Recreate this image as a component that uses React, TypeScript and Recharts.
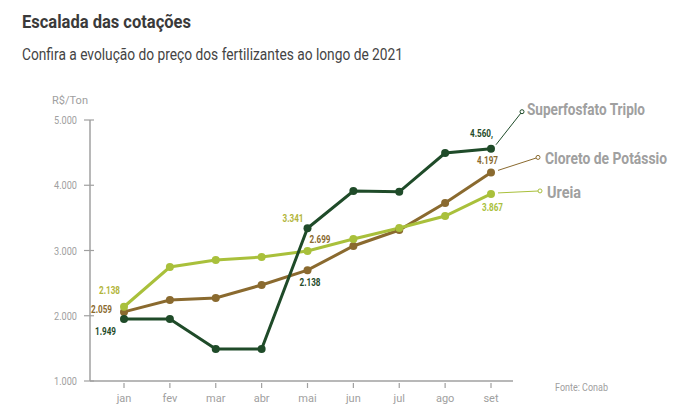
import { LineChart, Line, XAxis, YAxis } from 'recharts';

const months = ['jan', 'fev', 'mar', 'abr', 'mai', 'jun', 'jul', 'ago', 'set'];
const superfosfato = [1949, 1949, 1490, 1490, 3341, 3912, 3900, 4494, 4560];
const cloreto = [2059, 2241, 2272, 2471, 2699, 3069, 3314, 3728, 4197];
const ureia = [2138, 2747, 2854, 2900, 2992, 3176, 3345, 3529, 3867];
const yTicks = [1000, 2000, 3000, 4000, 5000];

const DARK = '#1f4b29';
const BROWN = '#8a6a2f';
const LIME = '#a9c03b';
const GRAY = '#a0a0a0';
const FONT = 'Roboto, "Noto Sans", Arial, sans-serif';

const data = months.map((m, i) => ({
  month: m,
  superfosfato: superfosfato[i],
  cloreto: cloreto[i],
  ureia: ureia[i],
}));

// rótulos de valor: série, índice, texto, cor, deslocamento a partir do ponto
const valueLabels = [
  { key: 'ureia', index: 0, text: '2.138', color: '#b2b53a', dx: -25, dy: -13 },
  { key: 'cloreto', index: 0, text: '2.059', color: BROWN, dx: -33, dy: 1 },
  { key: 'superfosfato', index: 0, text: '1.949', color: DARK, dx: -29, dy: 16 },
  { key: 'superfosfato', index: 4, text: '3.341', color: '#b2b53a', dx: -25, dy: -6 },
  { key: 'cloreto', index: 4, text: '2.699', color: BROWN, dx: 2, dy: -27 },
  { key: 'cloreto', index: 4, text: '2.138', color: DARK, dx: -8, dy: 16 },
  { key: 'superfosfato', index: 8, text: '4.560,', color: DARK, dx: -21, dy: -12 },
  { key: 'cloreto', index: 8, text: '4.197', color: BROWN, dx: -14, dy: -8 },
  { key: 'ureia', index: 8, text: '3.867', color: LIME, dx: -9, dy: 17 },
];

const legendItems: Record<string, { name: string; color: string; width: number; from: [number, number]; to: [number, number]; text: [number, number] }> = {
  superfosfato: { name: 'Superfosfato Triplo', color: DARK, width: 118, from: [5, -4], to: [31, -37], text: [5, 3] },
  cloreto: { name: 'Cloreto de Potássio', color: BROWN, width: 122, from: [7, -2], to: [47, -15], text: [7, 7] },
  ureia: { name: 'Ureia', color: LIME, width: 34, from: [7, -1], to: [49, -3], text: [7, 7] },
};

const makeLabel = (key: string) => (props: any) => {
  const { x, y, index } = props;
  const items = valueLabels.filter(l => l.key === key && l.index === index);
  const leg = index === months.length - 1 ? legendItems[key] : null;
  return (
    <g key={`${key}-${index}`}>
      {items.map((l, i) => (
        <text
          key={i}
          x={x + l.dx}
          y={y + l.dy}
          fill={l.color}
          fontSize={10}
          fontWeight="bold"
          fontFamily={FONT}
          textLength={l.text.length > 5 ? 23 : 21}
          lengthAdjust="spacingAndGlyphs"
        >
          {l.text}
        </text>
      ))}
      {leg && (
        <g>
          <line
            x1={x + leg.from[0]}
            y1={y + leg.from[1]}
            x2={x + leg.to[0]}
            y2={y + leg.to[1]}
            stroke={leg.color}
            strokeWidth={1}
          />
          <circle cx={x + leg.to[0]} cy={y + leg.to[1]} r={2} fill="#fff" stroke={leg.color} strokeWidth={1} />
          <text
            x={x + leg.to[0] + leg.text[0]}
            y={y + leg.to[1] + leg.text[1]}
            fill={GRAY}
            fontSize={17}
            fontWeight="bold"
            fontFamily={FONT}
            textLength={leg.width}
            lengthAdjust="spacingAndGlyphs"
          >
            {leg.name}
          </text>
        </g>
      )}
    </g>
  );
};

const YTick = (props: any) => {
  const { x, y, payload } = props;
  return (
    <g>
      <line x1={x + 2} y1={y} x2={x + 12} y2={y} stroke={GRAY} strokeWidth={1.2} />
      <text
        x={x - 5}
        y={y + 4}
        textAnchor="end"
        fill={GRAY}
        fontSize={11}
        fontFamily={FONT}
        textLength={23}
        lengthAdjust="spacingAndGlyphs"
      >
        {payload.value.toLocaleString('de-DE')}
      </text>
    </g>
  );
};

const XTick = (props: any) => {
  const { x, y, payload } = props;
  return (
    <g>
      <line x1={x} y1={y - 6} x2={x} y2={y - 1} stroke={GRAY} strokeWidth={1.2} />
      <text x={x} y={y + 13} textAnchor="middle" fill={GRAY} fontSize={11} fontFamily={FONT}>
        {payload.value}
      </text>
    </g>
  );
};

export default function App() {
  return (
    <div style={{ position: 'absolute', left: 0, top: 0, width: 690, height: 407, background: '#fff' }}>
      <div style={{ position: 'absolute', left: 0, top: 0 }}>
        <LineChart width={690} height={407} data={data} margin={{ top: 120, right: 177, bottom: 6, left: 40 }}>
          <XAxis
            dataKey="month"
            tick={<XTick />}
            tickLine={false}
            axisLine={{ stroke: GRAY, strokeWidth: 1.5 }}
            padding={{ left: 34, right: 22 }}
            height={20}
            interval={0}
          />
          <YAxis
            domain={[1000, 5000]}
            ticks={yTicks}
            tick={<YTick />}
            tickLine={false}
            axisLine={{ stroke: GRAY, strokeWidth: 1.5 }}
            width={50}
            interval={0}
          />
          <Line
            dataKey="cloreto"
            stroke={BROWN}
            strokeWidth={3}
            dot={{ r: 4, fill: BROWN, stroke: BROWN, strokeWidth: 0 }}
            label={makeLabel('cloreto')}
            isAnimationActive={false}
          />
          <Line
            dataKey="ureia"
            stroke={LIME}
            strokeWidth={3}
            dot={{ r: 4, fill: LIME, stroke: LIME, strokeWidth: 0 }}
            label={makeLabel('ureia')}
            isAnimationActive={false}
          />
          <Line
            dataKey="superfosfato"
            stroke={DARK}
            strokeWidth={3}
            dot={{ r: 4, fill: DARK, stroke: DARK, strokeWidth: 0 }}
            label={makeLabel('superfosfato')}
            isAnimationActive={false}
          />
        </LineChart>
      </div>
      <svg width={690} height={407} style={{ position: 'absolute', left: 0, top: 0, pointerEvents: 'none' }}>
        <text x={22} y={28} fontSize={18} fontWeight="bold" fill="#3a3a3a" fontFamily={FONT} textLength={169} lengthAdjust="spacingAndGlyphs">
          Escalada das cotações
        </text>
        <text x={22} y={60} fontSize={16} fill="#444" fontFamily={FONT} textLength={381} lengthAdjust="spacingAndGlyphs">
          Confira a evolução do preço dos fertilizantes ao longo de 2021
        </text>
        <text x={52} y={104} fontSize={11} fill={GRAY} fontFamily={FONT} textLength={36} lengthAdjust="spacingAndGlyphs">
          R$/Ton
        </text>
        <text x={555} y={391} fontSize={10.5} fill={GRAY} fontFamily={FONT} textLength={53} lengthAdjust="spacingAndGlyphs">
          Fonte: Conab
        </text>
      </svg>
    </div>
  );
}
